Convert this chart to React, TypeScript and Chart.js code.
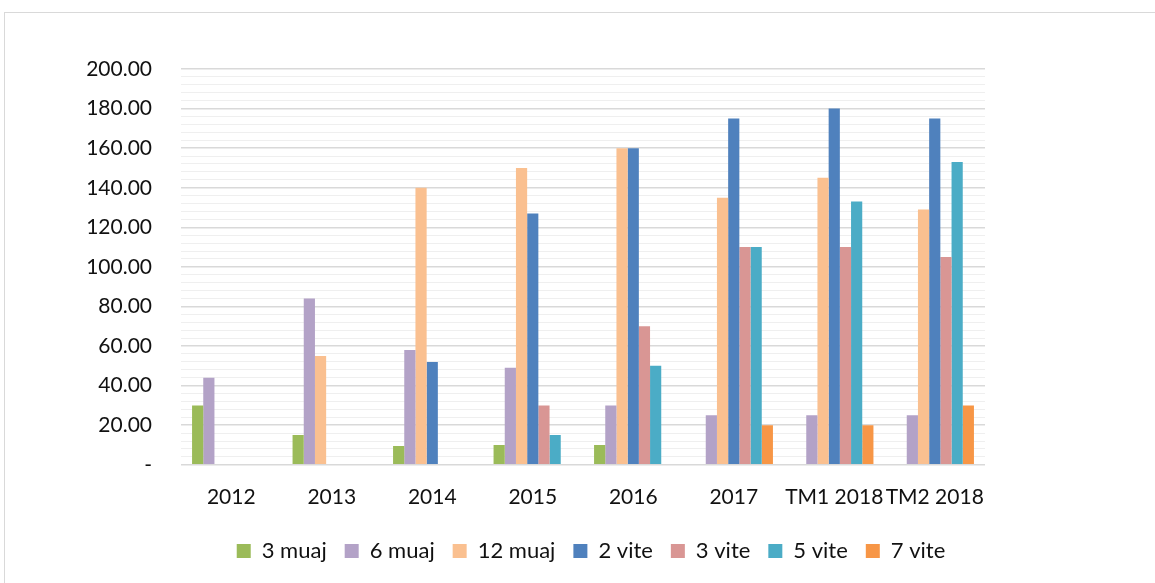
import React, { useEffect, useRef } from "react";
import { Chart, registerables } from "chart.js";
Chart.register(...registerables);

const categories = ["2012", "2013", "2014", "2015", "2016", "2017", "TM1 2018", "TM2 2018"];
const seriesNames = ["3 muaj", "6 muaj", "12 muaj", "2 vite", "3 vite", "5 vite", "7 vite"];
const muaj3 = [30, 15, 9.5, 10, 10, null, null, null];
const muaj6 = [44, 84, 58, 49, 30, 25, 25, 25];
const muaj12 = [null, 55, 140, 150, 160, 135, 145, 129];
const vite2 = [null, null, 52, 127, 160, 175, 180, 175];
const vite3 = [null, null, null, 30, 70, 110, 110, 105];
const vite5 = [null, null, null, 15, 50, 110, 133, 153];
const vite7 = [null, null, null, null, null, 20, 20, 30];
const seriesValues = [muaj3, muaj6, muaj12, vite2, vite3, vite5, vite7];
const seriesColors = ["#9BBB59", "#B3A2C7", "#FAC090", "#4F81BD", "#D99694", "#4BACC6", "#F79646"];

const FONT = "Lato, 'Liberation Sans', sans-serif";

export default function App() {
  const ref = useRef<HTMLCanvasElement | null>(null);
  useEffect(() => {
    if (!ref.current) return;
    const chart = new Chart(ref.current, {
      type: "bar",
      data: {
        labels: categories,
        datasets: seriesNames.map((name, i) => ({
          label: name,
          data: seriesValues[i],
          backgroundColor: seriesColors[i],
          borderWidth: 0,
          categoryPercentage: 0.78,
          barPercentage: 1,
        })),
      },
      options: {
        responsive: false,
        animation: false,
        layout: { padding: { left: 27, right: 0, top: 69, bottom: 11 } },
        plugins: {
          tooltip: { enabled: false },
          legend: {
            position: "bottom",
            labels: {
              boxWidth: 14,
              boxHeight: 14,
              padding: 18,
              color: "#111",
              font: { family: FONT, size: 22 },
            },
          },
        },
        scales: {
          x: {
            grid: { display: false },
            border: { display: false },
            ticks: {
              color: "#111",
              font: { family: FONT, size: 21 },
              maxRotation: 0,
              minRotation: 0,
              autoSkip: false,
              padding: 12,
            },
          },
          y: {
            min: 0,
            max: 200,
            afterFit: (s: any) => { s.width = 154; },
            border: { display: false },
            grid: {
              drawTicks: false,
              color: (ctx: any) => (ctx.tick && ctx.tick.value % 20 === 0 ? "#d9d9d9" : "#efefef"),
              lineWidth: (ctx: any) => (ctx.tick && ctx.tick.value % 20 === 0 ? 1.5 : 1),
            },
            ticks: {
              stepSize: 4,
              autoSkip: false,
              padding: 29,
              color: "#111",
              font: { family: FONT, size: 21 },
              callback: (v: any) => {
                const n = Number(v);
                if (n === 0) return "-";
                if (n % 20 !== 0) return "";
                return n.toFixed(2);
              },
            },
          },
          y2: {
            position: "right",
            min: 0,
            max: 200,
            afterFit: (s: any) => { s.width = 170; },
            grid: { display: false },
            border: { display: false },
            ticks: { display: false },
          },
        },
      },
    });
    return () => chart.destroy();
  }, []);
  return (
    <div style={{ position: "fixed", left: 0, top: 0, width: 1155, height: 583, background: "#fff", overflow: "hidden" }}>
      <div style={{ position: "absolute", left: 4, top: 12, width: 1300, height: 800, border: "1px solid #d9d9d9" }} />
      <canvas ref={ref} width={1155} height={583} style={{ position: "absolute", left: 0, top: 0 }} />
    </div>
  );
}
